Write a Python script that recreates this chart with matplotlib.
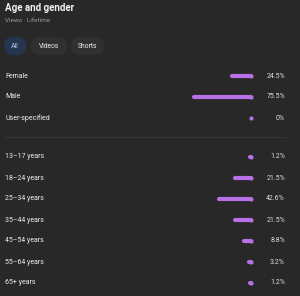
import matplotlib.pyplot as plt
from matplotlib.patches import FancyBboxPatch

# data
gender_labels = ['Female', 'Male', 'User-specified']
gender_values = [24.5, 75.5, 0.0]
gender_text = ['24.5%', '75.5%', '0%']

age_labels = ['13\u201317 years', '18\u201324 years', '25\u201334 years', '35\u201344 years',
              '45\u201354 years', '55\u201364 years', '65+ years']
age_values = [1.2, 21.5, 42.6, 21.5, 8.8, 3.2, 1.2]
age_text = ['1.2%', '21.5%', '42.6%', '21.5%', '8.8%', '3.2%', '1.2%']

chips = ['All', 'Videos', 'Shorts']

BG = '#282828'
BAR = '#b870e6'
plt.rcParams['font.family'] = ['Roboto', 'DejaVu Sans']

W, H = 300, 296
fig = plt.figure(figsize=(W / 100, H / 100), dpi=100, facecolor=BG)

# page axes in pixel units
ax = fig.add_axes([0, 0, 1, 1])
ax.set_xlim(0, W)
ax.set_ylim(H, 0)
ax.axis('off')
ax.set_facecolor(BG)

ax.text(5, 8, 'Age and gender', color='#f1f1f1', fontsize=7.0, fontweight='bold', va='center')
ax.text(5, 20, 'Views \u00b7 Lifetime', color='#9a9a9a', fontsize=4.6, va='center')

chip_x = [(4, 22), (31, 36), (71, 33)]
for name, (x0, w) in zip(chips, chip_x):
    fc = '#24364f' if name == 'All' else '#303030'
    tc = '#a8cdfa' if name == 'All' else '#eeeeee'
    ax.add_patch(FancyBboxPatch((x0, 37), w, 18, boxstyle='round,pad=0,rounding_size=9',
                                mutation_aspect=1, fc=fc, ec='none'))
    ax.text(x0 + w / 2, 46, name, color=tc, fontsize=4.9, ha='center', va='center')

ax.plot([5, 285], [137, 137], color='#363636', lw=0.8)

gender_y = [76, 97, 118]
age_y = [157, 178, 199, 220, 241, 262, 283]

# bar axes: percent scale, bars grow to the left
px_per_pct = 0.76
right = 251
bx = fig.add_axes([(right - 100 * px_per_pct) / W, 0, 100 * px_per_pct / W, 1])
bx.set_xlim(100, 0)
bx.set_ylim(H, 0)
bx.axis('off')
bx.patch.set_alpha(0)

for labels, vals, txts, ys in [(gender_labels, gender_values, gender_text, gender_y),
                               (age_labels, age_values, age_text, age_y)]:
    for lab, v, t, y in zip(labels, vals, txts, ys):
        ax.text(5, y, lab, color='#eeeeee', fontsize=5.0, va='center')
        ax.text(285, y, t, color='#dddddd', fontsize=5.0, va='center', ha='right')
        bx.plot([0, v], [y, y], color=BAR, lw=3.0, solid_capstyle='round',
                marker='o', ms=3.0, mew=0, markevery=[0], clip_on=False)

fig.savefig('out.png', dpi=100, facecolor=BG)
